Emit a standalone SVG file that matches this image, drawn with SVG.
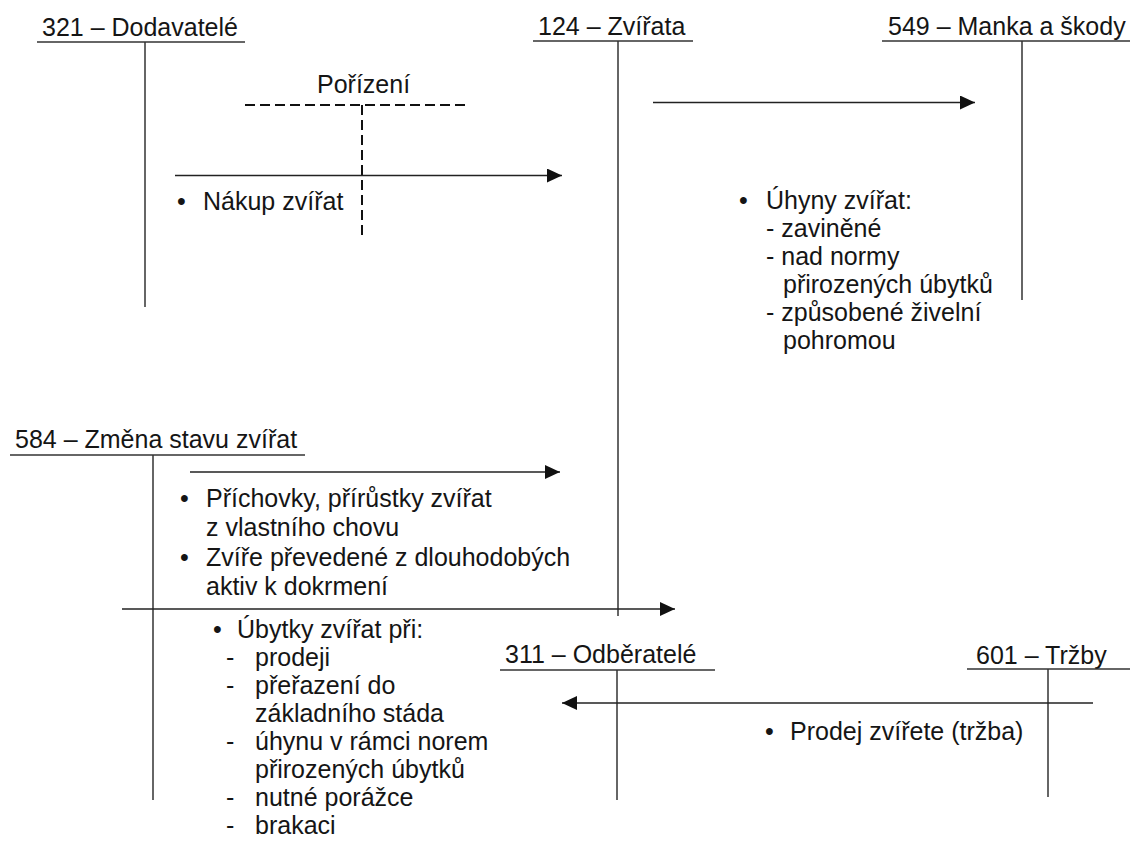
<svg xmlns="http://www.w3.org/2000/svg" width="1132" height="848" viewBox="0 0 1132 848">
  <style>
    text { font-family: "Liberation Sans", Arial, sans-serif; font-size: 25px; fill: #151515; }
    .rule { stroke: #333; stroke-width: 1.5; fill: none; }
    .flow { stroke: #222; stroke-width: 1.5; fill: none; marker-end: url(#head); }
    .dash { stroke: #111; stroke-width: 2; fill: none; stroke-dasharray: 10 5; }
  </style>
  <defs>
    <marker id="head" markerUnits="userSpaceOnUse" markerWidth="16" markerHeight="16" refX="15" refY="7" orient="auto">
      <path d="M0,0 L15,7 L0,14 z" fill="#111"/>
    </marker>
  </defs>
  <rect width="1132" height="848" fill="#fff"/>

  <!-- T-accounts -->
  <g id="acc-321">
    <text x="42" y="36">321 – Dodavatelé</text>
    <line class="rule" x1="37" y1="42" x2="245" y2="42"/>
    <line class="rule" x1="145" y1="42" x2="145" y2="307"/>
  </g>
  <g id="acc-124">
    <text x="538" y="35">124 – Zvířata</text>
    <line class="rule" x1="533" y1="41" x2="693" y2="41"/>
    <line class="rule" x1="618" y1="41" x2="618" y2="616"/>
  </g>
  <g id="acc-549">
    <text x="888" y="35">549 – Manka a škody</text>
    <line class="rule" x1="882" y1="41" x2="1130" y2="41"/>
    <line class="rule" x1="1022" y1="41" x2="1022" y2="300"/>
  </g>
  <g id="acc-584">
    <text x="15" y="448">584 – Změna stavu zvířat</text>
    <line class="rule" x1="10" y1="455" x2="305" y2="455"/>
    <line class="rule" x1="153" y1="455" x2="153" y2="800"/>
  </g>
  <g id="acc-311">
    <text x="505" y="663">311 – Odběratelé</text>
    <line class="rule" x1="500" y1="670" x2="715" y2="670"/>
    <line class="rule" x1="617" y1="670" x2="617" y2="800"/>
  </g>
  <g id="acc-601">
    <text x="976" y="664">601 – Tržby</text>
    <line class="rule" x1="967" y1="669" x2="1130" y2="669"/>
    <line class="rule" x1="1048" y1="669" x2="1048" y2="797"/>
  </g>

  <!-- Acquisition marker -->
  <g id="porizeni">
    <text x="317" y="93">Pořízení</text>
    <line class="dash" x1="245" y1="105" x2="470" y2="105"/>
    <line class="dash" x1="362" y1="105" x2="362" y2="237"/>
  </g>

  <!-- Connectors -->
  <g id="connectors">
    <line class="flow" x1="175" y1="175.5" x2="562" y2="175.5"/>
    <line class="flow" x1="653" y1="102.5" x2="975" y2="102.5"/>
    <line class="flow" x1="190" y1="472" x2="560" y2="472"/>
    <line class="flow" x1="122" y1="609" x2="675" y2="609"/>
    <line class="flow" x1="1093" y1="703" x2="562" y2="703"/>
  </g>

  <!-- Entry descriptions -->
  <g id="note-nakup">
    <text x="177" y="210">•</text>
    <text x="203" y="210">Nákup zvířat</text>
  </g>
  <g id="note-uhyny">
    <text x="739" y="209">•</text>
    <text x="766" y="209">Úhyny zvířat:</text>
    <text x="766" y="237">- zaviněné</text>
    <text x="766" y="265">- nad normy</text>
    <text x="783" y="293">přirozených úbytků</text>
    <text x="766" y="321">- způsobené živelní</text>
    <text x="783" y="349">pohromou</text>
  </g>
  <g id="note-prirustky">
    <text x="180" y="507">•</text>
    <text x="206" y="507">Příchovky, přírůstky zvířat</text>
    <text x="206" y="536">z vlastního chovu</text>
    <text x="180" y="566">•</text>
    <text x="206" y="566">Zvíře převedené z dlouhodobých</text>
    <text x="206" y="595">aktiv k dokrmení</text>
  </g>
  <g id="note-ubytky">
    <text x="213" y="638">•</text>
    <text x="237" y="638">Úbytky zvířat při:</text>
    <text x="226" y="666">-</text>
    <text x="255" y="666">prodeji</text>
    <text x="226" y="694">-</text>
    <text x="255" y="694">přeřazení do</text>
    <text x="255" y="722">základního stáda</text>
    <text x="226" y="750">-</text>
    <text x="255" y="750">úhynu v rámci norem</text>
    <text x="255" y="778">přirozených úbytků</text>
    <text x="226" y="806">-</text>
    <text x="255" y="806">nutné porážce</text>
    <text x="226" y="834">-</text>
    <text x="255" y="834">brakaci</text>
  </g>
  <g id="note-prodej">
    <text x="765" y="740">•</text>
    <text x="790" y="740">Prodej zvířete (tržba)</text>
  </g>
</svg>
